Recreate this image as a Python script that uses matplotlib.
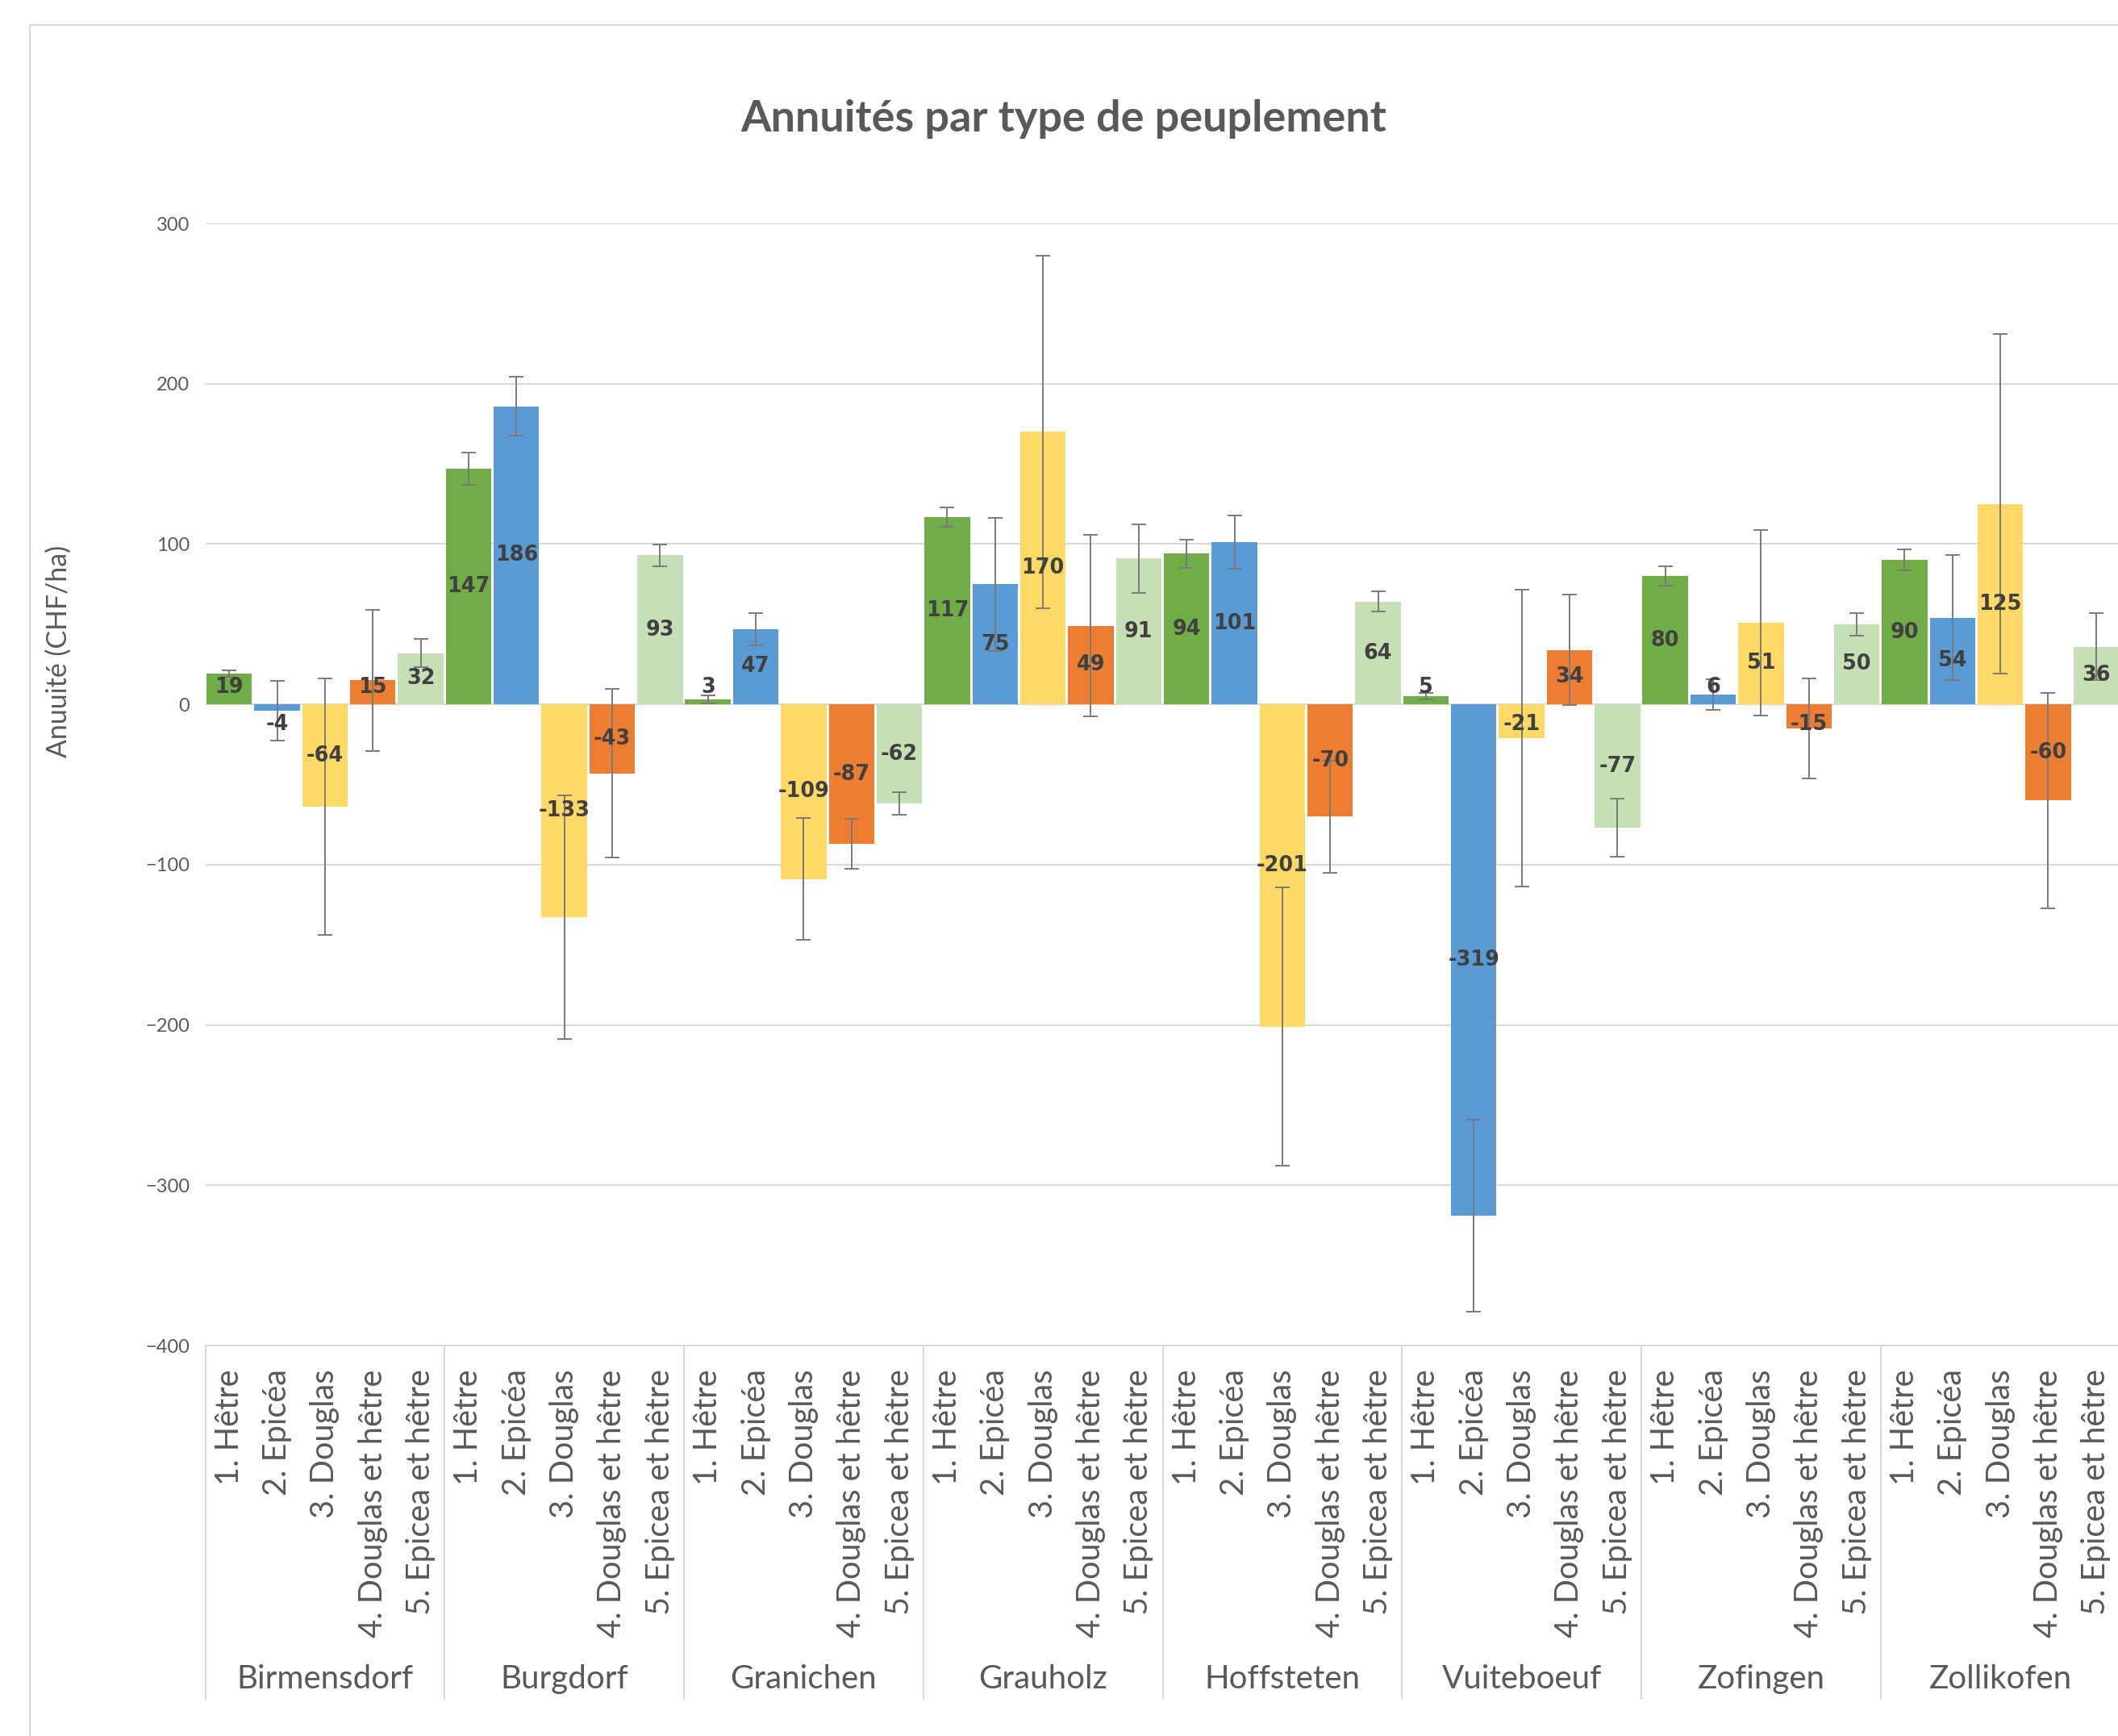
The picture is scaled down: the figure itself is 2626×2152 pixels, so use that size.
import numpy as np
import matplotlib
matplotlib.use("Agg")
import matplotlib.pyplot as plt
import matplotlib.transforms as mtransforms
from matplotlib.lines import Line2D

plt.rcParams['font.family'] = ['Lato', 'DejaVu Sans']

# données
sites = ["Birmensdorf", "Burgdorf", "Granichen", "Grauholz",
         "Hoffsteten", "Vuiteboeuf", "Zofingen", "Zollikofen"]
types = ["1. Hêtre", "2. Epicéa", "3. Douglas",
         "4. Douglas et hêtre", "5. Epicea et hêtre"]

hetre = [19, 147, 3, 117, 94, 5, 80, 90]
epicea = [-4, 186, 47, 75, 101, -319, 6, 54]
douglas = [-64, -133, -109, 170, -201, -21, 51, 125]
douglas_hetre = [15, -43, -87, 49, -70, 34, -15, -60]
epicea_hetre = [32, 93, -62, 91, 64, -77, 50, 36]

hetre_err = [2, 10, 2.5, 6, 8.7, 2, 6, 6.5]
epicea_err = [18.5, 18.5, 10, 41.5, 16.6, 60, 9.5, 39]
douglas_err = [80, 76, 38, 110, 87, 92.5, 58, 106]
douglas_hetre_err = [44, 52.5, 15.5, 56.5, 35, 34.6, 31, 67]
epicea_hetre_err = [8.7, 6.7, 7, 21.5, 6.3, 18, 7, 21]

couleurs = ["#70AD47", "#5B9BD5", "#FFD966", "#ED7D31", "#C5E0B4"]

series = [hetre, epicea, douglas, douglas_hetre, epicea_hetre]
erreurs = [hetre_err, epicea_err, douglas_err, douglas_hetre_err, epicea_hetre_err]

n_t = len(types)
n_s = len(sites)

# valeurs dans l'ordre site / type
vals = np.array(series).T.flatten()
errs = np.array(erreurs).T.flatten()
cols = couleurs * n_s
labels = types * n_s
x = np.arange(len(vals))

W, H, DPI = 2626, 2152, 200
fig = plt.figure(figsize=(W / DPI, H / DPI), dpi=DPI)
ax = fig.add_axes([254.5 / W, 1 - 1668 / H, 2374 / W, 1391 / H])

grid_col = "#D9D9D9"
txt_col = "#595959"

ax.bar(x, vals, width=0.95, color=cols, zorder=2)
ax.errorbar(x, vals, yerr=errs, fmt="none", ecolor="#7A7A7A",
            elinewidth=0.7, capsize=3.2, capthick=0.7, zorder=3)

# étiquettes de données
for xi, v in zip(x, vals):
    if v >= 0:
        yp = max(v / 2, 10.5)
    else:
        yp = min(v / 2, -12.7)
    ax.text(xi, yp, f"{v:d}", ha="center", va="center", fontsize=9.2,
            fontweight="bold", color="#404040", family="DejaVu Sans", zorder=4)

ax.set_xlim(-0.5, len(vals) - 0.5)
ax.set_ylim(-400, 300)
ax.set_yticks(np.arange(-400, 301, 100))
ax.yaxis.grid(True, color=grid_col, linewidth=0.75, zorder=0)
ax.set_axisbelow(True)
for s in ["top", "right", "left"]:
    ax.spines[s].set_visible(False)
ax.spines["bottom"].set_color(grid_col)
ax.spines["bottom"].set_linewidth(0.75)
ax.tick_params(axis="y", length=0, pad=7, labelsize=8.5, labelcolor=txt_col)

ax.set_xticks(x)
ax.set_xticklabels(labels, rotation=90, fontsize=14.3, color=txt_col)
ax.tick_params(axis="x", length=0, pad=10.5)

# séparateurs et noms des sites
trans = mtransforms.blended_transform_factory(ax.transData, ax.transAxes)
for k in range(n_s + 1):
    xb = k * n_t - 0.5
    ax.add_line(Line2D([xb, xb], [0, -0.315], transform=trans, color=grid_col,
                       linewidth=0.75, clip_on=False))
for k, nom in enumerate(sites):
    ax.text(k * n_t + (n_t - 1) / 2, -0.297, nom, transform=trans, ha="center",
            va="center", fontsize=14.5, color=txt_col)

# cadre du graphique
fig.add_artist(Line2D([37 / W, 37 / W], [0, 1 - 31 / H], color=grid_col, linewidth=0.75))
fig.add_artist(Line2D([37 / W, 1], [1 - 31 / H, 1 - 31 / H], color=grid_col, linewidth=0.75))

fig.text(1319 / W, 1 - 147 / H, "Annuités par type de peuplement", ha="center",
         va="center", fontsize=19.5, fontweight="bold", color=txt_col)
fig.text(73 / W, 1 - 807 / H, "Anuuité (CHF/ha)", rotation=90, ha="center",
         va="center", fontsize=12.2, color=txt_col)

fig.savefig("out.png", dpi=DPI)
